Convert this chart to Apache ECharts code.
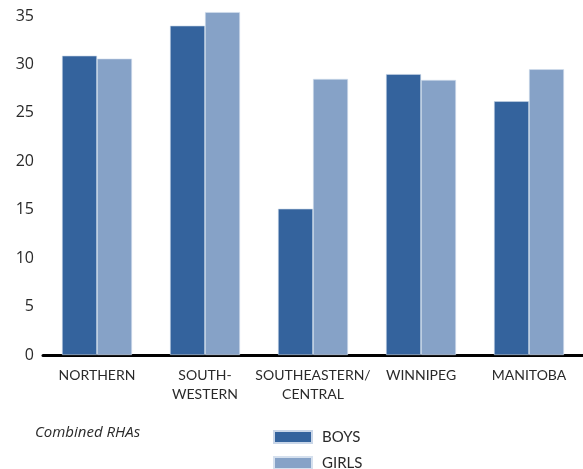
<!DOCTYPE html>
<html>
<head>
<meta charset="utf-8">
<script src="https://cdn.jsdelivr.net/npm/echarts@6/dist/echarts.min.js"></script>
<style>
  html, body { margin: 0; padding: 0; background: #fff; }
  #chart { width: 583px; height: 469px; }
</style>
</head>
<body>
<div id="chart"></div>
<script>
// regions (x axis)
var regions = ["NORTHERN", "SOUTH-\nWESTERN", "SOUTHEASTERN/\nCENTRAL", "WINNIPEG", "MANITOBA"];
// values
var boys = [30.9, 34.0, 15.1, 29.0, 26.2];
var girls = [30.6, 35.4, 28.5, 28.4, 29.5];
var yTicks = [0, 5, 10, 15, 20, 25, 30, 35];

var myChart = echarts.init(document.getElementById('chart'));
var font = "Lato, 'Open Sans', sans-serif";
var font2 = "'Open Sans', sans-serif";

var option = {
    animation: false,
    textStyle: { fontFamily: font },
    title: {
        text: 'Combined RHAs',
        left: 35,
        top: 425,
        padding: 0,
        textStyle: { fontSize: 15, fontStyle: 'italic', fontWeight: 'normal', color: '#2a2a2a', fontFamily: font2 }
    },
    legend: {
        orient: 'vertical',
        left: 273,
        top: 428,
        height: 80,
        padding: 0,
        itemWidth: 38,
        itemHeight: 12,
        itemGap: 8,
        icon: 'rect',
        data: ['BOYS', 'GIRLS'],
        textStyle: { fontSize: 15, color: '#2a2a2a', fontFamily: font, padding: [0, 0, 0, 5], lineHeight: 18 }
    },
    grid: { left: 43, top: 16, width: 544, height: 339 },
    xAxis: {
        type: 'category',
        data: regions,
        axisLine: { lineStyle: { color: '#000', width: 3 } },
        axisTick: { show: false },
        axisLabel: { color: '#2a2a2a', fontSize: 14, lineHeight: 19, margin: 11, interval: 0 }
    },
    yAxis: {
        type: 'value',
        min: 0,
        max: 35,
        interval: 5,
        splitLine: { show: false },
        axisLine: { show: false },
        axisTick: { show: false },
        axisLabel: {
            color: '#2a2a2a', fontSize: 16, margin: 9, fontFamily: font2,
            formatter: function (v) { return yTicks.indexOf(v) >= 0 ? v : ''; }
        }
    },
    series: [{
        name: 'BOYS',
        type: 'bar',
        data: boys,
        barWidth: 35,
        barGap: '0%',
        clip: false,
        itemStyle: { color: '#34639D', borderColor: '#C9D6E8', borderWidth: 0.6 }
    }, {
        name: 'GIRLS',
        type: 'bar',
        data: girls,
        barWidth: 35,
        clip: false,
        itemStyle: { color: '#86A2C7', borderColor: '#D5E0EE', borderWidth: 0.6 }
    }]
};

myChart.setOption(option);
</script>
</body>
</html>
